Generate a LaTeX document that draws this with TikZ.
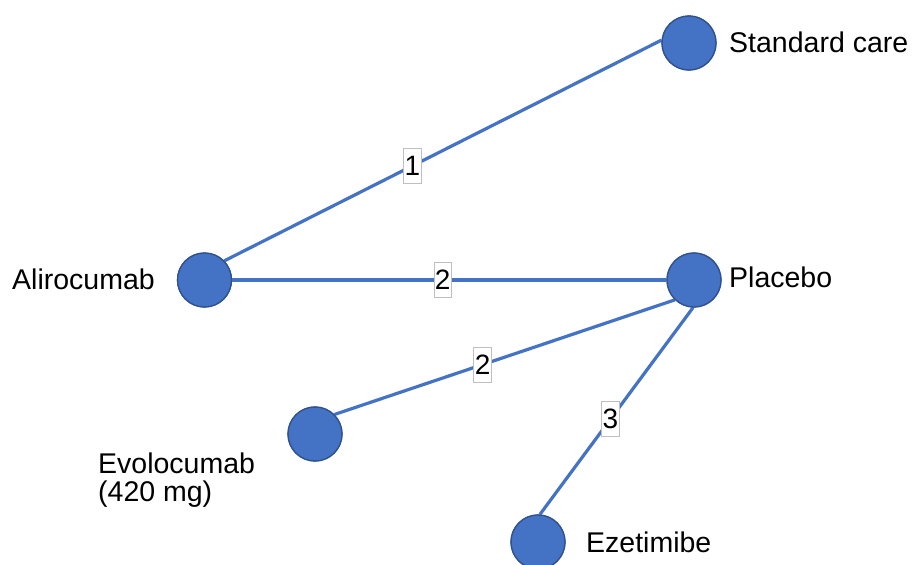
\documentclass[tikz,border=0pt]{standalone}
\usepackage{fontspec}
\setmainfont{Liberation Sans}
\definecolor{nodefill}{HTML}{4472C4}
\definecolor{nodeedge}{HTML}{2F528F}
\definecolor{linkcol}{HTML}{4472C4}
\definecolor{boxedge}{HTML}{BFBFBF}
\begin{document}
\begin{tikzpicture}[x=1pt,y=-1pt,
  treat/.style={circle,minimum size=54pt,inner sep=0pt,fill=nodefill,draw=nodeedge,line width=1.3pt},
  lbl/.style={font=\fontsize{28.5}{29}\selectfont,inner sep=0pt},
  link/.style={draw=linkcol,line width=3.2pt},
  count/.style={fill=white,draw=boxedge,line width=0.7pt,font=\fontsize{28}{29}\selectfont,
    text height=23pt,text depth=4pt,inner xsep=1pt,inner ysep=4pt}]
\useasboundingbox (0,0) rectangle (916,565);

% treatment nodes
\node[treat] (std) at (689,43) {};
\node[treat] (alir) at (204.5,280) {};
\node[treat] (plac) at (694,280) {};
\node[treat] (evol) at (315,434) {};
\node[treat] (ezet) at (538,542) {};

% treatment names
\node[lbl,anchor=base west] (tstd) at (729,52) {Standard care};
\node[lbl,anchor=base west] (talir) at (12,289) {Alirocumab};
\node[lbl,anchor=base west] (tplac) at (729,287) {Placebo};
\node[lbl,anchor=base west] (tevol) at (98,473) {Evolocumab};
\node[lbl,anchor=base west] (tevol2) at (98,501) {(420 mg)};
\node[lbl,anchor=base west] (tezet) at (586,552) {Ezetimibe};

% comparisons with number of trials
\draw[link] (alir.44) -- node[count,pos=0.43] (n1) {1} (std.174);
\draw[link] (alir.east) -- node[count,pos=0.485] (n2) {2} (plac.west);
\draw[link] (evol.45) -- node[count,pos=0.435] (n3) {2} (plac.226);
\draw[link] (plac.268) -- node[count,pos=0.54] (n4) {3} (ezet.86);

% circles drawn again over the link ends
\node[treat] at (std) {};
\node[treat] at (alir) {};
\node[treat] at (plac) {};
\node[treat] at (evol) {};
\node[treat] at (ezet) {};
\end{tikzpicture}
\end{document}
